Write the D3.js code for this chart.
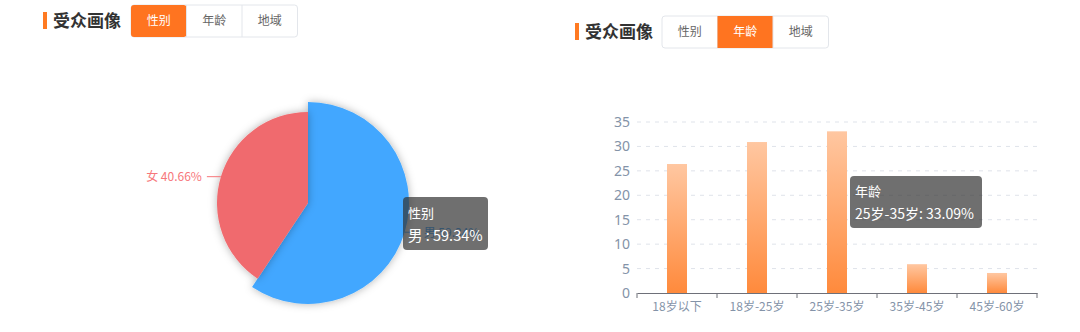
<!DOCTYPE html>
<html>
<head>
<meta charset="utf-8">
<script src="https://cdn.jsdelivr.net/npm/d3@7"></script>
<style>
  html, body { margin: 0; padding: 0; background: #fff; }
  svg { display: block; font-family: "Noto Sans CJK SC", "Noto Sans", sans-serif; }
</style>
</head>
<body>
<svg id="canvas"></svg>
<script>
let width = 1080,
height = 332

// data
let tabs = ['性别', '年龄', '地域']
let genderNames = ['男', '女']
let genderValues = [59.34, 40.66]
let ageNames = ['18岁以下', '18岁-25岁', '25岁-35岁', '35岁-45岁', '45岁-60岁']
let ageValues = [26.4, 30.9, 33.09, 5.9, 4.1]
let yTicks = [0, 5, 10, 15, 20, 25, 30, 35]

let canvas = d3.select('#canvas')
.attr('width', width)
.attr('height', height)

let defs = canvas.append('defs')
let shadow = defs.append('filter').attr('id', 'shadow')
.attr('x', '-20%').attr('y', '-20%').attr('width', '140%').attr('height', '140%')
shadow.append('feDropShadow')
.attr('dx', 0).attr('dy', 0).attr('stdDeviation', 4)
.attr('flood-color', '#000').attr('flood-opacity', 0.3)

let grad = defs.append('linearGradient').attr('id', 'barGrad')
.attr('x1', 0).attr('y1', 0).attr('x2', 0).attr('y2', 1)
grad.append('stop').attr('offset', '0%').attr('stop-color', '#ffc7a1')
grad.append('stop').attr('offset', '100%').attr('stop-color', '#ff8a3c')

// header with tabs
let drawHeader = (x, y, active, tabX) => {
    let g = canvas.append('g')
    g.append('rect').attr('x', x).attr('y', y).attr('width', 4).attr('height', 17).attr('fill', '#ff7a22')
    g.append('text').attr('x', x + 10).attr('y', y + 15)
    .attr('font-size', 17).attr('font-weight', 'bold').attr('fill', '#333')
    .text('受众画像')

    let tw = 55.5
    g.append('rect').attr('x', tabX).attr('y', y - 7).attr('width', tw * 3).attr('height', 32)
    .attr('rx', 3).attr('fill', '#fff').attr('stroke', '#e3e6eb')
    tabs.forEach((t, i) => {
        if (i > 0) {
            g.append('line').attr('x1', tabX + tw * i).attr('x2', tabX + tw * i)
            .attr('y1', y - 7).attr('y2', y + 25).attr('stroke', '#e3e6eb')
        }
        if (i === active) {
            g.append('rect').attr('x', tabX + tw * i).attr('y', y - 7).attr('width', tw).attr('height', 32)
            .attr('rx', i === 0 ? 3 : 0).attr('fill', '#ff7420')
        }
        g.append('text').attr('x', tabX + tw * i + tw / 2).attr('y', y + 13)
        .attr('text-anchor', 'middle').attr('font-size', 12)
        .attr('fill', i === active ? '#fff' : '#666')
        .text(t)
    })
}

drawHeader(43, 12, 0, 131)
drawHeader(575, 23, 1, 662)

// pie
let cx = 308, cy = 203, r = 91
let pie = d3.pie().sort(null)(genderValues)
let arc = d3.arc().innerRadius(0)
let pieColors = ['#42a7ff', '#f06a6e']
let pg = canvas.append('g').attr('transform', `translate(${cx},${cy})`)

pg.selectAll('path')
.data(pie)
.join('path')
.attr('d', (d, i) => arc.outerRadius(i === 0 ? r + 10 : r)(d))
.attr('fill', (d, i) => pieColors[i])
.attr('filter', 'url(#shadow)')
.attr('aria-label', (d, i) => genderNames[i])

// labels (the 男 label sits under the tooltip, as in the original)
let labelColors = ['#42a7ff', '#f7777b']
pie.forEach((d, i) => {
    let mid = (d.startAngle + d.endAngle) / 2
    let rr = i === 0 ? r + 10 : r
    let px = Math.sin(mid) * rr, py = -Math.cos(mid) * rr
    let side = px > 0 ? 1 : -1
    let lx = px + side * 14
    pg.append('line').attr('x1', px).attr('y1', py).attr('x2', lx).attr('y2', py)
    .attr('stroke', labelColors[i]).attr('stroke-width', 1)
    pg.append('text').attr('x', lx + side * 5).attr('y', py + 4.5)
    .attr('text-anchor', side > 0 ? 'start' : 'end')
    .attr('font-size', 12).attr('fill', labelColors[i])
    .text(genderNames[i] + ' ' + genderValues[i].toFixed(2) + '%')
})

// pie tooltip
let tip1 = canvas.append('g').attr('transform', 'translate(403,197)')
tip1.append('rect').attr('width', 85).attr('height', 53).attr('rx', 4).attr('fill', 'rgba(50,50,50,0.7)')
tip1.append('text').attr('x', 5).attr('y', 21).attr('font-size', 13).attr('fill', '#fff').text('性别')
tip1.append('text').attr('x', 5).attr('y', 44).attr('font-size', 14.5).attr('fill', '#fff')
.text(genderNames[0] + ' : ' + genderValues[0].toFixed(2) + '%')

// bar chart
let x = d3.scaleBand().domain(ageNames).range([637, 1037])
let y = d3.scaleLinear().domain([0, 35]).range([293, 122])

let grid = canvas.append('g')
grid.selectAll('line')
.data(yTicks.slice(1))
.join('line')
.attr('x1', 637).attr('x2', 1037)
.attr('y1', d => y(d)).attr('y2', d => y(d))
.attr('stroke', '#dfe3ea').attr('stroke-dasharray', '4,5')

let yAxis = canvas.append('g').attr('transform', 'translate(637,0)')
.call(d3.axisLeft(y).tickValues(yTicks).tickSize(0).tickPadding(7))
yAxis.select('.domain').remove()
yAxis.selectAll('text').attr('font-size', 14).attr('fill', '#8493a8')
.attr('font-family', '"Noto Sans", sans-serif')

canvas.append('g').selectAll('rect')
.data(ageValues)
.join('rect')
.attr('x', (d, i) => x(ageNames[i]) + x.bandwidth() / 2 - 10)
.attr('y', d => y(d))
.attr('width', 20)
.attr('height', d => y(0) - y(d))
.attr('fill', 'url(#barGrad)')

let xAxis = canvas.append('g').attr('transform', 'translate(0,293)')
.call(d3.axisBottom(x).tickSize(0).tickPadding(9))
xAxis.select('.domain').attr('stroke', '#6e7079').attr('stroke-width', 1.2)
xAxis.selectAll('text').attr('font-size', 12).attr('fill', '#8493a8')
.attr('font-family', '"Noto Sans CJK SC", sans-serif')
// boundary ticks
xAxis.append('g').selectAll('line')
.data(d3.range(ageNames.length + 1))
.join('line')
.attr('x1', i => 637 + x.step() * i).attr('x2', i => 637 + x.step() * i)
.attr('y1', 0).attr('y2', 5).attr('stroke', '#6e7079')

// bar tooltip
let tip2 = canvas.append('g').attr('transform', 'translate(850,176)')
tip2.append('rect').attr('width', 132).attr('height', 52).attr('rx', 4).attr('fill', 'rgba(50,50,50,0.7)')
tip2.append('text').attr('x', 5).attr('y', 20).attr('font-size', 13).attr('fill', '#fff').text('年龄')
tip2.append('text').attr('x', 5).attr('y', 43).attr('font-size', 14).attr('fill', '#fff')
.text(ageNames[2] + ': ' + ageValues[2].toFixed(2) + '%')
</script>
</body>
</html>
